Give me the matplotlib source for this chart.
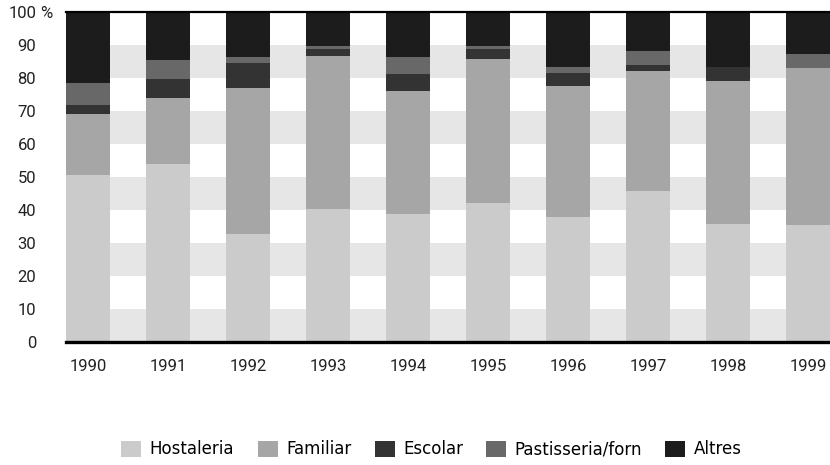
import matplotlib
matplotlib.use("Agg")
import matplotlib.pyplot as plt
import numpy as np

years = ["1990", "1991", "1992", "1993", "1994", "1995", "1996", "1997", "1998", "1999"]
hostaleria = [50.6, 54.0, 32.7, 40.3, 38.8, 42.1, 37.9, 45.8, 35.8, 35.5]
familiar = [18.5, 19.9, 44.3, 46.4, 37.3, 43.7, 39.7, 36.3, 43.3, 47.5]
escolar = [2.7, 5.8, 7.6, 2.1, 5.1, 3.0, 3.9, 1.8, 4.2, 0.0]
pastisseria = [6.7, 5.8, 1.8, 0.9, 5.2, 0.9, 1.8, 4.3, 0.0, 4.3]
altres = [21.5, 14.5, 13.6, 10.3, 13.6, 10.3, 16.7, 11.8, 16.7, 12.7]

series = [("Hostaleria", hostaleria, "#cbcbcb"),
          ("Familiar", familiar, "#a6a6a6"),
          ("Escolar", escolar, "#333333"),
          ("Pastisseria/forn", pastisseria, "#686868"),
          ("Altres", altres, "#1c1c1c")]

plt.rcParams['font.family'] = ['Roboto', 'DejaVu Sans']

fig = plt.figure(figsize=(8.3, 4.65), dpi=100)
ax = fig.add_axes([66/830, 1-342/465, 1-66/830, 330/465])

x = np.arange(len(years))
w = 0.55

# alternating background bands
for lo in range(0, 100, 20):
    ax.axhspan(lo, lo+10, color="#e6e6e6", lw=0, zorder=0)

bottom = np.zeros(len(years))
for name, vals, col in series:
    ax.bar(x, vals, w, bottom=bottom, color=col, label=name, zorder=2, lw=0)
    bottom += np.array(vals)

ax.set_xlim(-w/2, len(years)-1+w/2)
ax.set_ylim(0, 100)
ax.axhline(0, color="black", lw=2.4, zorder=3, clip_on=False)
ax.axhline(100, color="black", lw=1.6, zorder=3, clip_on=False)

for s in ax.spines.values():
    s.set_visible(False)

ax.set_yticks(range(0, 101, 10))
ax.set_yticklabels([str(v) for v in range(0, 101, 10)], fontsize=12, color="#222222")
ax.tick_params(axis="y", length=0, pad=21.5)
ax.text(-0.034, 100, "%", transform=ax.get_yaxis_transform(), ha="left",
        va="center_baseline", fontsize=12, color="#222222")

ax.set_xticks(x)
ax.set_xticklabels(years, fontsize=12, color="#222222")
ax.tick_params(axis="x", length=0, pad=12)

fig.legend(loc="center", bbox_to_anchor=(0.52, 0.034), ncol=5, frameon=False,
           handlelength=1.2, handleheight=1.1, handletextpad=0.5, columnspacing=1.4,
           prop={'family': ['DejaVu Sans'], 'size': 12})

fig.savefig("out.png", dpi=100)
